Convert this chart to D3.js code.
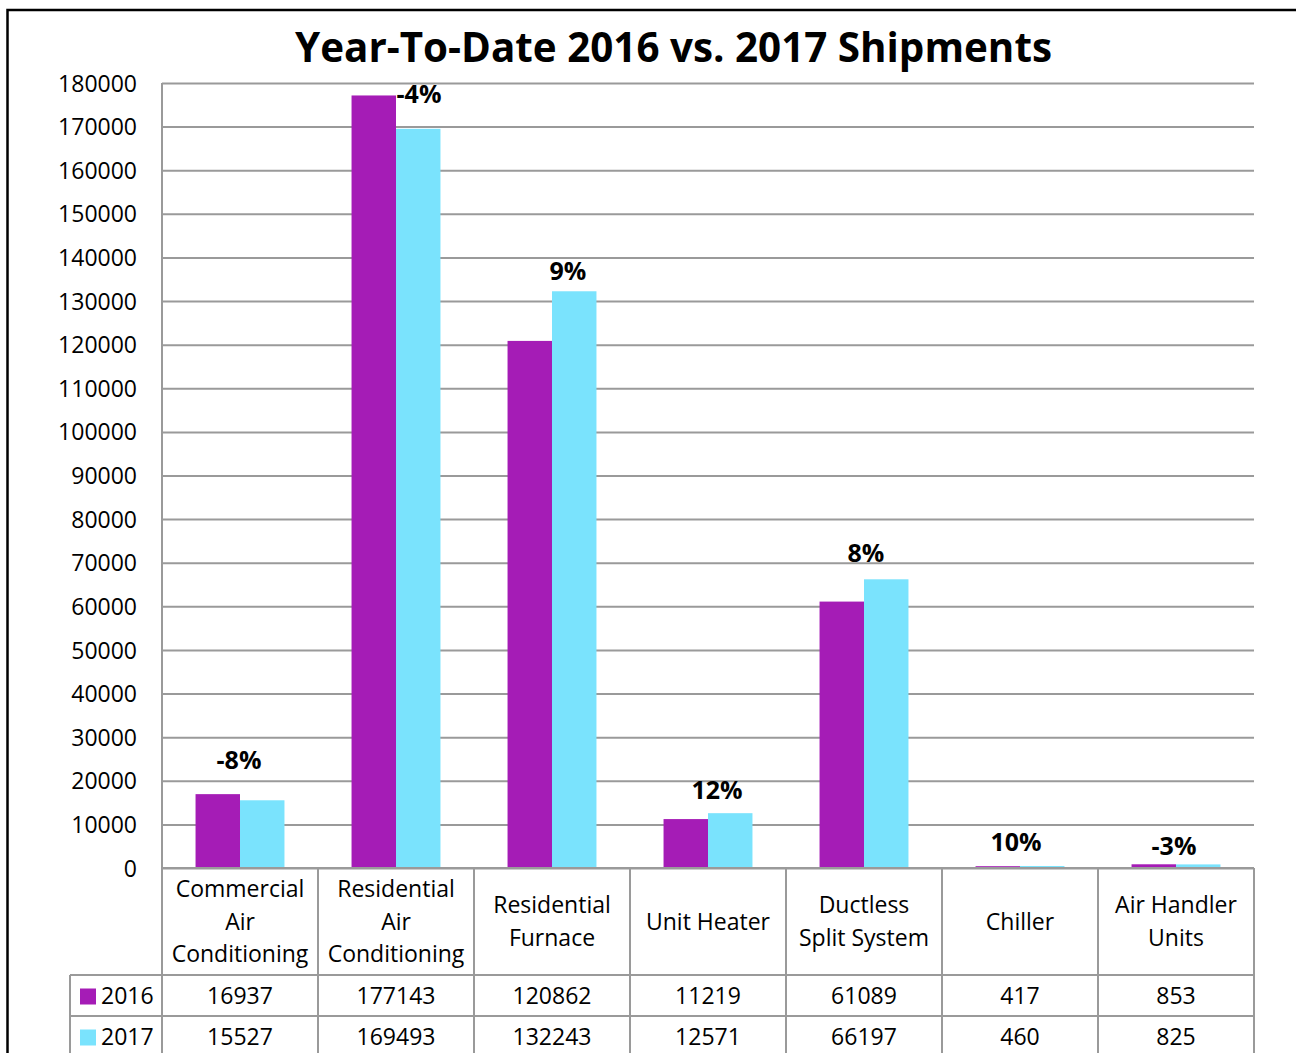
<!DOCTYPE html>
<html>
<head>
<meta charset="utf-8">
<script src="https://cdn.jsdelivr.net/npm/d3@7"></script>
<style>
  html, body { margin: 0; padding: 0; background: #fff; }
  svg { display: block; }
  text { font-family: "Open Sans", "Noto Sans", sans-serif; fill: #000; }
</style>
</head>
<body>
<svg id="chart" width="1296" height="1053"></svg>
<script>
// ---------------- data ----------------
const title = "Year-To-Date 2016 vs. 2017 Shipments";
const categories = [
  ["Commercial", "Air", "Conditioning"],
  ["Residential", "Air", "Conditioning"],
  ["Residential", "Furnace"],
  ["Unit Heater"],
  ["Ductless", "Split System"],
  ["Chiller"],
  ["Air Handler", "Units"]
];
const seriesNames = ["2016", "2017"];
const values2016 = [16937, 177143, 120862, 11219, 61089, 417, 853];
const values2017 = [15527, 169493, 132243, 12571, 66197, 460, 825];
const changeLabels = ["-8%", "-4%", "9%", "12%", "8%", "10%", "-3%"];
const yTicks = [0, 10000, 20000, 30000, 40000, 50000, 60000, 70000, 80000, 90000,
                100000, 110000, 120000, 130000, 140000, 150000, 160000, 170000, 180000];

// ---------------- styles / layout ----------------
const colors = { "2016": "#A51CB6", "2017": "#7AE3FD" };
const gridColor = "#9a9a9a";
const plot = { left: 162, right: 1254, top: 83, bottom: 868 };
const tableRows = { header: [868, 975], r2016: [975, 1016], r2017: [1016, 1057] };
const tableLeft = 70;
// label placement tweaks relative to category centre / top of taller bar
const labelDx = [-1, 23, 16, 9, 2, -4, -2];
const labelDy = [-25, 8, -11, -14, -17, -15, -9];

const svg = d3.select("#chart");

const indices = d3.range(categories.length);
const x0 = d3.scaleBand().domain(indices).range([plot.left, plot.right]).padding(0);
const bw = x0.bandwidth();
const groupPad = bw * 0.215;
const x1 = d3.scaleBand().domain(seriesNames).range([groupPad, bw - groupPad]).padding(0);
const y = d3.scaleLinear().domain([0, 180000]).range([plot.bottom, plot.top]);

// outer chart border (extends beyond the viewport)
svg.append("rect")
  .attr("x", 7.5).attr("y", 10).attr("width", 1400).attr("height", 1200)
  .attr("fill", "none").attr("stroke", "#000").attr("stroke-width", 2.5);

// title
const t = svg.append("text")
  .attr("x", 673.5).attr("y", 62)
  .attr("text-anchor", "middle")
  .style("font-weight", "bold")
  .style("font-size", "40px")
  .text(title);
const tw = t.node().getComputedTextLength();
t.style("font-size", (40 * 757 / tw).toFixed(2) + "px");

// gridlines via axis
const yAxis = d3.axisLeft(y).tickValues(yTicks).tickSize(-(plot.right - plot.left)).tickPadding(25)
  .tickFormat(d3.format("d"));
const gAxis = svg.append("g").attr("transform", `translate(${plot.left},0)`).call(yAxis);
gAxis.select(".domain").remove();
gAxis.selectAll(".tick line").attr("stroke", gridColor).attr("stroke-width", 2);
gAxis.selectAll(".tick text")
  .style("font-size", "23px").style("font-family", "'Open Sans', sans-serif")
  .attr("fill", "#000").attr("dy", "0.35em");

// left axis line of plot
svg.append("line")
  .attr("x1", plot.left).attr("x2", plot.left)
  .attr("y1", plot.top).attr("y2", plot.bottom)
  .attr("stroke", gridColor).attr("stroke-width", 2);

// bars
const rows = indices.map(i => ({ i, vals: [
  { s: "2016", v: values2016[i] },
  { s: "2017", v: values2017[i] }
]}));
const groups = svg.append("g").selectAll("g").data(rows).join("g")
  .attr("transform", d => `translate(${x0(d.i)},0)`);
groups.selectAll("rect").data(d => d.vals).join("rect")
  .attr("x", d => x1(d.s))
  .attr("width", x1.bandwidth())
  .attr("y", d => y(d.v))
  .attr("height", d => y(0) - y(d.v))
  .attr("fill", d => colors[d.s]);

// percent labels
svg.append("g").selectAll("text").data(indices).join("text")
  .attr("x", i => x0(i) + bw / 2 + labelDx[i])
  .attr("y", i => y(Math.max(values2016[i], values2017[i])) + labelDy[i])
  .attr("text-anchor", "middle")
  .style("font-weight", "bold")
  .style("font-size", "25px")
  .text(i => changeLabels[i]);

// ---------------- data table ----------------
const tg = svg.append("g");
const lineAttrs = sel => sel.attr("stroke", gridColor).attr("stroke-width", 2);
[[plot.left, tableRows.header[0]], [tableLeft, tableRows.r2016[0]], [tableLeft, tableRows.r2017[0]], [tableLeft, tableRows.r2017[1]]]
  .forEach(([xs, yy]) => {
    tg.append("line").attr("x1", xs).attr("x2", plot.right).attr("y1", yy).attr("y2", yy).call(lineAttrs);
  });
indices.concat([categories.length]).forEach(k => {
  const xx = plot.left + k * bw;
  tg.append("line").attr("x1", xx).attr("x2", xx)
    .attr("y1", tableRows.header[0]).attr("y2", tableRows.r2017[1] + 10).call(lineAttrs);
});
tg.append("line").attr("x1", tableLeft).attr("x2", tableLeft)
  .attr("y1", tableRows.r2016[0]).attr("y2", tableRows.r2017[1] + 10).call(lineAttrs);

// header labels
const headerMid = (tableRows.header[0] + tableRows.header[1]) / 2;
const lineH = 32.5;
indices.forEach(i => {
  const lines = categories[i];
  const txt = tg.append("text")
    .attr("text-anchor", "middle")
    .style("font-size", "23px");
  lines.forEach((ln, k) => {
    txt.append("tspan")
      .attr("x", x0(i) + bw / 2)
      .attr("y", headerMid + 8 + (k - (lines.length - 1) / 2) * lineH)
      .text(ln);
  });
});

// value rows
const rowDefs = [
  { name: "2016", vals: values2016, band: tableRows.r2016 },
  { name: "2017", vals: values2017, band: tableRows.r2017 }
];
rowDefs.forEach(r => {
  const mid = (r.band[0] + r.band[1]) / 2;
  tg.append("rect")
    .attr("x", 80).attr("y", mid - 7).attr("width", 16).attr("height", 16)
    .attr("fill", colors[r.name]);
  tg.append("text").attr("x", 101).attr("y", mid + 8.5)
    .style("font-size", "23px").text(r.name);
  indices.forEach(i => {
    tg.append("text")
      .attr("x", x0(i) + bw / 2).attr("y", mid + 8.5)
      .attr("text-anchor", "middle")
      .style("font-size", "23px")
      .text(r.vals[i]);
  });
});
</script>
</body>
</html>
